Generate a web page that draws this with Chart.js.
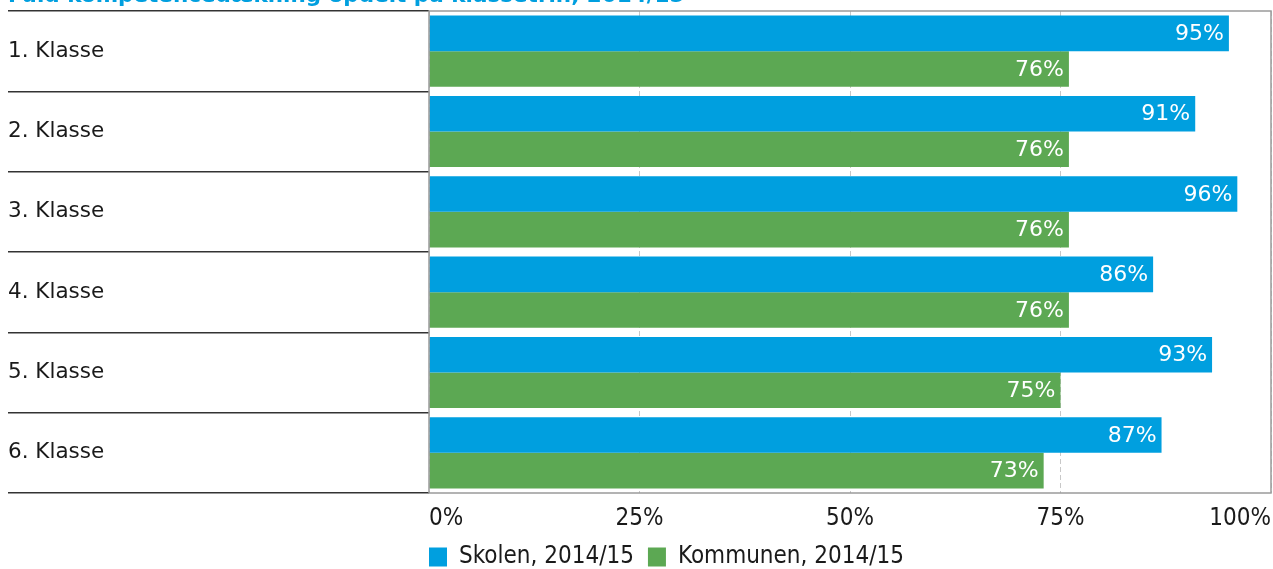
<!DOCTYPE html>
<html><head><meta charset="utf-8">
<script src="https://cdn.jsdelivr.net/npm/chart.js@4.4.0/dist/chart.umd.min.js"></script>
<style>
html,body{margin:0;padding:0;background:#fff;overflow:hidden;}
#wrap{position:relative;width:1273px;height:569px;overflow:hidden;background:#fff;}
#wrap canvas{position:absolute;left:0;top:-18px;}
</style></head><body>
<div id="wrap"><canvas id="c" width="1273" height="597" style="width:1273px;height:597px"></canvas></div>
<script>
const categories = ['1. Klasse', '2. Klasse', '3. Klasse', '4. Klasse', '5. Klasse', '6. Klasse'];
const skolen = [95, 91, 96, 86, 93, 87];
const kommunen = [76, 76, 76, 76, 75, 73];
const xTickValues = [0, 25, 50, 75, 100];
const seriesNames = ['Skolen, 2014/15', 'Kommunen, 2014/15'];
const titleText = 'Fuld kompetencedækning opdelt på klassetrin, 2014/15';

const BLUE = '#009FDF';
const GREEN = '#5CA853';

const valueLabels = {
  id: 'valueLabels',
  afterDatasetsDraw(chart) {
    const ctx = chart.ctx;
    ctx.save();
    ctx.font = '22px "DejaVu Sans"';
    ctx.fillStyle = '#ffffff';
    ctx.textAlign = 'right';
    ctx.textBaseline = 'middle';
    chart.data.datasets.forEach((ds, i) => {
      chart.getDatasetMeta(i).data.forEach((bar, j) => {
        ctx.fillText(ds.data[j] + '%', bar.x - 5, bar.y + 1);
      });
    });
    ctx.restore();
  }
};

const areaBorder = {
  id: 'areaBorder',
  afterLayout(chart) {
    if (chart.legend) {
      const p = chart.options.plugins.legend.labels.padding;
      chart.legend.left -= p;
      chart.legend.right -= p;
    }
  },
  afterDatasetsDraw(chart) {
    const a = chart.chartArea;
    const ctx = chart.ctx;
    ctx.save();
    ctx.strokeStyle = '#9a9a9a';
    ctx.lineWidth = 1.5;
    ctx.strokeRect(a.left, a.top, a.right - a.left, a.bottom - a.top);
    ctx.restore();
  }
};

new Chart(document.getElementById('c'), {
  type: 'bar',
  data: {
    labels: categories,
    datasets: [
      { label: seriesNames[0], data: skolen, backgroundColor: BLUE, borderWidth: 0 },
      { label: seriesNames[1], data: kommunen, backgroundColor: GREEN, borderWidth: 0 }
    ]
  },
  options: {
    indexAxis: 'y',
    responsive: false,
    animation: false,
    devicePixelRatio: 1,
    datasets: { bar: { categoryPercentage: 0.885, barPercentage: 1.0 } },
    layout: { padding: { left: 8, right: 2, top: 0, bottom: 0 } },
    scales: {
      x: {
        min: 0, max: 100,
        afterBuildTicks: (s) => { s.ticks = xTickValues.map(v => ({ value: v })); },
        afterFit: (s) => { s.height = 38; s.paddingLeft = 0; s.paddingRight = 0; },
        grid: { color: '#c8c8c8', lineWidth: 1, drawTicks: false },
        border: { display: false, dash: [5, 3] },
        ticks: {
          align: 'inner',
          padding: 11,
          color: '#1a1a1a',
          font: { family: '"DejaVu Sans Condensed", "DejaVu Sans"', size: 24 },
          callback: (v) => v + '%',
          maxRotation: 0
        }
      },
      y: {
        afterFit: (s) => { s.width = 421; },
        grid: { drawOnChartArea: false, drawTicks: true, tickLength: 421, color: '#333333', lineWidth: 1.5 },
        border: { display: false },
        ticks: {
          crossAlign: 'far',
          padding: 0,
          color: '#1a1a1a',
          font: { family: '"DejaVu Sans"', size: 21.5 }
        }
      }
    },
    plugins: {
      title: {
        display: true,
        text: titleText,
        align: 'start',
        color: BLUE,
        font: { family: '"DejaVu Sans"', size: 21.5, weight: 'bold' },
        padding: { top: 2, bottom: 1.2 }
      },
      legend: {
        display: true,
        position: 'bottom',
        align: 'start',
        fullSize: false,
        labels: {
          boxWidth: 18,
          boxHeight: 19,
          padding: 14,
          color: '#1a1a1a',
          font: { family: '"DejaVu Sans Condensed", "DejaVu Sans"', size: 24 }
        }
      },
      tooltip: { enabled: false }
    }
  },
  plugins: [valueLabels, areaBorder]
});
</script>
</body></html>
